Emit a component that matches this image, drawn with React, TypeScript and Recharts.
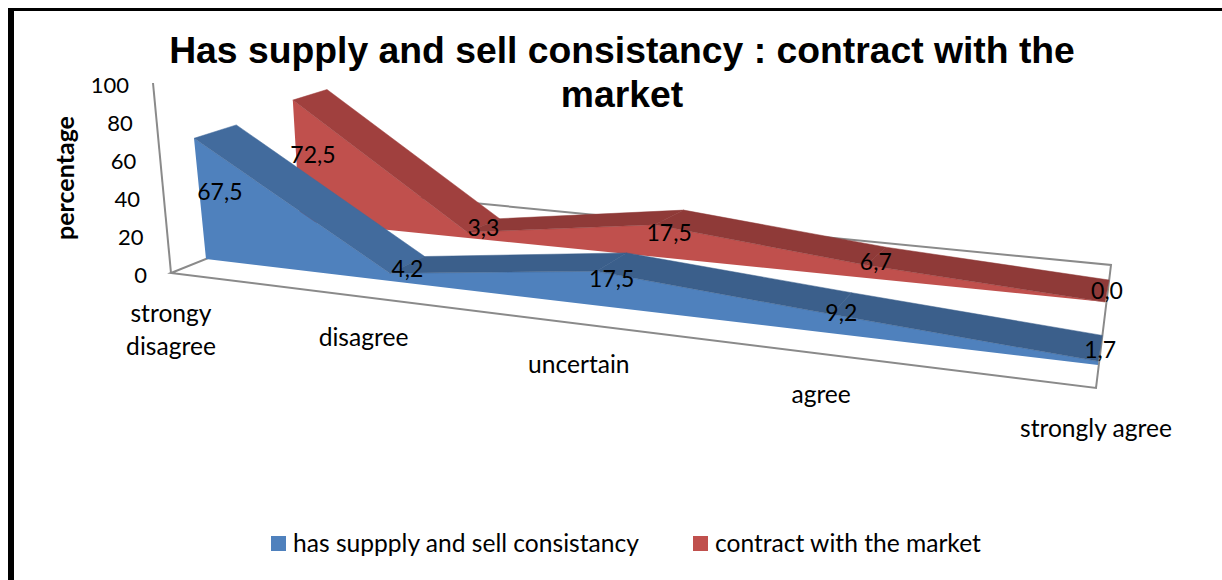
import { Legend, Line, LineChart, XAxis, YAxis } from "recharts"

const categories = ["strongy disagree", "disagree", "uncertain", "agree", "strongly agree"]
const supplySeries = [67.5, 4.2, 17.5, 9.2, 1.7]
const contractSeries = [72.5, 3.3, 17.5, 6.7, 0.0]
const valueTicks = [0, 20, 40, 60, 80, 100]

const data = categories.map((name, i) => ({
  name,
  supply: supplySeries[i],
  contract: contractSeries[i],
}))

const WIDTH = 1222
const HEIGHT = 580
const PLOT_LEFT = 150
const PLOT_RIGHT = 100
const PLOT_TOP = 85
const AXIS_HEIGHT = 30
const PLOT_BOTTOM = 275
const FONT = "Lato, sans-serif"

type Pt = [number, number]

// maps the unit square (s along categories, t = value / 100) onto a screen quad
// corners: s0t0, s1t0, s1t1, s0t1
function plane(q: Pt[]) {
  const [[x0, y0], [x1, y1], [x2, y2], [x3, y3]] = q
  const dx1 = x1 - x2
  const dx2 = x3 - x2
  const sx = x0 - x1 + x2 - x3
  const dy1 = y1 - y2
  const dy2 = y3 - y2
  const sy = y0 - y1 + y2 - y3
  const det = dx1 * dy2 - dx2 * dy1
  const g = (sx * dy2 - dx2 * sy) / det
  const h = (dx1 * sy - sx * dy1) / det
  const a = x1 - x0 + g * x1
  const b = x3 - x0 + h * x3
  const d = y1 - y0 + g * y1
  const e = y3 - y0 + h * y3
  return (s: number, v: number): Pt => {
    const t = v / 100
    const w = g * s + h * t + 1
    return [(a * s + b * t + x0) / w, (d * s + e * t + y0) / w]
  }
}

// 3D walls of the chart, one plane per face
const wallFront = plane([[171, 273], [1096, 388], [1116, 150], [153, 83]])
const supplyFront = plane([[206, 259], [1098, 365], [1118, 136], [188, 78]])
const supplyBack = plane([[243, 244], [1102, 339], [1120, 120], [233, 66]])
const contractFront = plane([[300, 221], [1105, 302], [1120, 90], [290, 53]])
const contractBack = plane([[332, 209], [1109, 280], [1124, 80], [325, 43]])

const floorOutline = "171,273 370,193 1111,265 1096,388"

const toS = (cx: number) => (cx - PLOT_LEFT) / (WIDTH - PLOT_LEFT - PLOT_RIGHT)
const toV = (cy: number) => ((PLOT_BOTTOM - cy) / (PLOT_BOTTOM - PLOT_TOP)) * 100
const poly = (pts: Pt[]) => pts.map((p) => `${p[0].toFixed(1)},${p[1].toFixed(1)}`).join(" ")

// the Line only supplies scaled points, each series face is painted when the last one arrives
function solidDot(front: typeof wallFront, back: typeof wallFront, faceColor: string, steepColor: string, flatColor: string) {
  const pts: { s: number; v: number }[] = []
  return (props: any) => {
    const { cx, cy, index } = props
    pts[index] = { s: toS(cx), v: toV(cy) }
    if (index !== categories.length - 1) return <g key={index} />
    const ribbons = pts.slice(1).map((p, i) => {
      const prev = pts[i]
      const quad = [front(prev.s, prev.v), front(p.s, p.v), back(p.s, p.v), back(prev.s, prev.v)]
      const color = prev.v - p.v > 40 ? steepColor : flatColor
      return <polygon key={i} points={poly(quad)} fill={color} stroke={color} strokeWidth={0.5} />
    })
    const face = [...pts.map((p) => front(p.s, p.v)), front(1, 0), front(0, 0)]
    return (
      <g key={index}>
        <polygon points={poly(face)} fill={faceColor} />
        {ribbons}
      </g>
    )
  }
}

function valueDot(front: typeof wallFront, back: typeof wallFront) {
  return (props: any) => {
    const { cx, cy, index, value } = props
    const s = toS(cx)
    const v = toV(cy) / 2
    const a = front(s, v)
    const b = back(s, v)
    return (
      <text key={index} x={(a[0] + b[0]) / 2} y={(a[1] + b[1]) / 2} dy={8} textAnchor="middle" fontFamily={FONT} fontSize={23} fill="#000">
        {Number(value).toFixed(1).replace(".", ",")}
      </text>
    )
  }
}

function CategoryTick(props: any) {
  const { x, payload } = props
  const [px, py] = wallFront(toS(x), 0)
  const words = payload.value === categories[0] ? ["strongy", "disagree"] : [payload.value]
  return (
    <text textAnchor="middle" fontFamily={FONT} fontSize={24.6} fill="#000">
      {words.map((w: string, i: number) => (
        <tspan key={w} x={px} y={py + 49 + i * 33}>
          {w}
        </tspan>
      ))}
    </text>
  )
}

function ValueTick(props: any) {
  const { y, payload } = props
  const [px] = wallFront(0, payload.value)
  return (
    <text x={px - 24} y={y} dy={8} textAnchor="end" fontFamily={FONT} fontSize={22} fill="#000">
      {payload.value}
    </text>
  )
}

function LegendRow(props: any) {
  const items = (props.payload || []).filter((p: any) => p.type !== "none").reverse()
  return (
    <div style={{ display: "flex", gap: 54, fontFamily: FONT, fontSize: 24.6, color: "#000", lineHeight: "28px", whiteSpace: "nowrap" }}>
      {items.map((p: any) => (
        <div key={p.value} style={{ display: "flex", alignItems: "center", gap: 7 }}>
          <span style={{ width: 15, height: 15, background: p.color, display: "inline-block" }} />
          {p.value}
        </div>
      ))}
    </div>
  )
}

export default function App() {
  return (
    <div style={{ position: "fixed", left: 0, top: 0, width: WIDTH, height: HEIGHT, background: "#fff", overflow: "hidden" }}>
      <div style={{ position: "absolute", left: 8, top: 8, width: WIDTH, height: HEIGHT, boxSizing: "border-box", borderLeft: "6px solid #000", borderTop: "3px solid #000" }} />
      <LineChart
        width={WIDTH}
        height={HEIGHT}
        data={data}
        margin={{ top: PLOT_TOP, right: PLOT_RIGHT, bottom: HEIGHT - PLOT_BOTTOM - AXIS_HEIGHT, left: 0 }}
        style={{ position: "absolute", left: 0, top: 0 }}
      >
        <text x={622} y={63} textAnchor="middle" fontFamily="Liberation Sans" fontWeight="bold" fontSize={37.3} fill="#000">
          Has supply and sell consistancy : contract with the
        </text>
        <text x={622} y={107} textAnchor="middle" fontFamily="Liberation Sans" fontWeight="bold" fontSize={37.3} fill="#000">
          market
        </text>
        <text transform="translate(74,178) rotate(-90)" textAnchor="middle" fontFamily={FONT} fontWeight="bold" fontSize={25} fill="#000">
          percentage
        </text>
        <polygon points={floorOutline} fill="none" stroke="#8a8a8a" strokeWidth={2} />
        <line x1={153} y1={83} x2={171} y2={273} stroke="#8a8a8a" strokeWidth={2} />
        <XAxis dataKey="name" scale="point" padding={{ left: 0, right: 0 }} height={AXIS_HEIGHT} interval={0} axisLine={false} tickLine={false} tick={<CategoryTick />} />
        <YAxis width={PLOT_LEFT} domain={[0, 100]} ticks={valueTicks} axisLine={false} tickLine={false} tick={<ValueTick />} />
        <Legend
          layout="horizontal"
          verticalAlign="middle"
          content={<LegendRow />}
          wrapperStyle={{ position: "absolute", left: 271, top: 529, width: 760, bottom: "auto" }}
        />
        <Line
          dataKey="contract"
          name="contract with the market"
          stroke="#c0504d"
          strokeWidth={0}
          isAnimationActive={false}
          dot={solidDot(contractFront, contractBack, "#c0504d", "#a0403e", "#8f3a38")}
        />
        <Line
          dataKey="supply"
          name="has suppply and sell consistancy"
          stroke="#4f81bd"
          strokeWidth={0}
          isAnimationActive={false}
          dot={solidDot(supplyFront, supplyBack, "#4f81bd", "#426b9d", "#3b5f8b")}
        />
        <Line dataKey="contract" stroke="none" legendType="none" isAnimationActive={false} dot={valueDot(contractFront, contractBack)} />
        <Line dataKey="supply" stroke="none" legendType="none" isAnimationActive={false} dot={valueDot(supplyFront, supplyBack)} />
      </LineChart>
    </div>
  )
}
